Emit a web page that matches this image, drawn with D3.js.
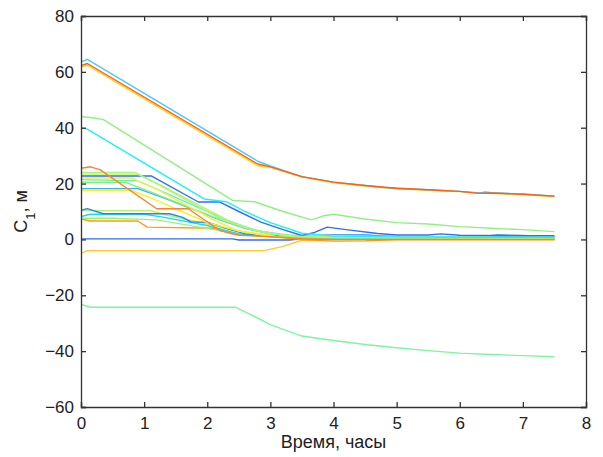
<!DOCTYPE html>
<html>
<head>
<meta charset="utf-8">
<script src="https://cdn.jsdelivr.net/npm/d3@7"></script>
<style>
  body { margin: 0; background: #fff; }
  text { font-family: "Liberation Sans", Arial, sans-serif; }
</style>
</head>
<body>
<script>
// tick values
const xTicks = [0, 1, 2, 3, 4, 5, 6, 7, 8];
const yTicks = [-60, -40, -20, 0, 20, 40, 60, 80];

// series: [time, C1]
const topSky = [[0,63.5],[0.1,64.5],[2.8,28],[3,26.3],[3.5,22.5],[4,20.5],[4.5,19.3],[4.8,18.6],[5,18.3],[5.5,17.8],[6,17.2],[6.3,16.6],[6.4,17],[6.5,16.7],[7,16.3],[7.5,15.5]];
const topYellow = [[0,61.6],[0.1,62.4],[2.8,26.4],[3,25.8],[3.5,22.3],[4,20.3],[4.5,19.1],[5,18.1],[5.5,17.6],[6,17.1],[6.5,16.5],[7,16.1],[7.5,15.3]];
const topOrange = [[0,62.2],[0.1,63],[2.8,27],[3,26],[3.5,22.5],[4,20.5],[4.5,19.3],[5,18.3],[5.5,17.8],[6,17.2],[6.3,16.5],[6.5,16.6],[7,16.2],[7.5,15.5]];
const green44 = [[0,44],[0.2,43.5],[0.35,43],[2.4,14],[2.75,13.5],[3.2,10],[3.65,7],[3.85,8.5],[4,9],[4.5,7.3],[5,6],[5.5,5.5],[6,4.6],[6.5,4],[7,3.5],[7.5,2.8]];
const cyan40 = [[0,40],[0.1,39.5],[1.95,14.5],[2.3,13.5],[2.6,10],[3,6],[3.5,2.2],[4,1.2],[5,0.9],[6,0.8],[7.5,0.8]];
const orange26 = [[0,25.5],[0.15,26],[0.3,25],[1.2,11],[1.7,11],[2.2,3.2],[2.5,1.5],[3,1],[3.5,0.3],[4,0],[7.5,0]];
const lgreen24 = [[0,24],[0.85,24],[1.2,20],[2.2,7.5],[2.5,5],[3,2],[3.5,1],[4,0.6],[7.5,0.5]];
const gyellow23 = [[0,23.4],[0.9,23.4],[1.3,19],[2.4,6],[2.8,3],[3.3,1.2],[7.5,0.5]];
const blue22 = [[0,22.7],[1.12,22.7],[1.86,13.4],[2.2,13.4],[2.5,10],[2.85,6.2],[3.2,3.5],[3.5,1.4],[3.7,2.5],[3.9,4.4],[4.2,3.5],[4.7,2.1],[5,1.6],[5.5,1.6],[5.7,2],[6,1.5],[7,1.3],[7.5,1.3]];
const yellow22 = [[0,22],[0.8,22],[1.2,18],[2.1,7],[2.5,3],[3,1],[7.5,0.3]];
const cyan21 = [[0,21.4],[0.9,21],[1.3,17],[2.3,7],[2.8,3],[3.3,1.5],[4,1],[7.5,1]];
const green20 = [[0,20.5],[0.7,20.5],[1.1,17],[2.1,8],[2.6,4],[3.2,1.5],[4,1],[7.5,0.8]];
const sky18 = [[0,18.2],[0.9,18.2],[1.3,15],[2.2,7],[2.6,4],[3.2,1],[4,0.6],[7.5,0.6]];
const yellow17 = [[0,17.6],[0.8,17.6],[1.2,14],[2,6],[2.5,3],[3,1.5],[7.5,0.5]];
const blue10 = [[0,10.5],[0.1,11],[0.35,9.2],[1.4,9.2],[1.6,8],[1.75,6.2],[2,6.2],[2.3,4],[2.6,2],[3,1],[4,1.6],[4.5,1.6],[5,1],[6.3,1],[6.6,1.6],[7,1.4],[7.5,1]];
const lgreen10 = [[0,10.3],[1.1,10.3],[1.3,9],[2.3,4],[2.8,1.5],[3.5,0.5],[7.5,0.3]];
const cyan8 = [[0,8.2],[0.15,9],[1,9],[1.3,8],[2,5],[2.5,2],[3,1],[7.5,0.8]];
const green7 = [[0,7.6],[0.5,7.6],[1.2,7],[2.5,2],[3.2,1],[7.5,0.5]];
const orange7 = [[0,7.3],[0.15,6.6],[0.9,6.6],[1.05,4.4],[2.1,4],[2.4,2],[3,1],[3.5,0],[4,-0.6],[4.5,-0.5],[5,0],[7.5,0]];
const blue0 = [[0,0.2],[2.4,0.2],[2.5,-0.2],[3.3,-0.2],[3.5,0.2],[7.5,0.2]];
const yellowNeg = [[0,-5],[0.1,-4],[2.9,-4],[3.2,-2.5],[3.5,-0.3],[4,0],[7.5,0]];
const greenNeg = [[0,-23.3],[0.15,-24.3],[2.45,-24.3],[2.7,-27],[3,-30.5],[3.3,-33],[3.5,-34.6],[4,-36.2],[4.5,-37.6],[5,-38.8],[5.5,-39.8],[6,-40.7],[6.5,-41.2],[7,-41.6],[7.5,-42]];

const seriesList = [
  [greenNeg, "#7ff5a0"], [yellowNeg, "#ffc830"], [blue0, "#2f6ef0"],
  [orange7, "#ff9a1e"], [green7, "#a0f070"], [cyan8, "#20d8f0"],
  [lgreen10, "#b0f070"], [blue10, "#1a8cf0"], [yellow17, "#ffee20"],
  [sky18, "#40b0f8"], [green20, "#80f080"], [cyan21, "#60f0c0"],
  [yellow22, "#f0f040"], [blue22, "#2f70f0"], [gyellow23, "#c8f060"],
  [lgreen24, "#a0f880"], [orange26, "#ff8030"], [cyan40, "#20f0f8"],
  [green44, "#90f080"], [topYellow, "#ffd020"], [topSky, "#50c8f8"],
  [topOrange, "#ff6010"]
];

const width = 603, height = 457;
const margin = { top: 16, right: 17, bottom: 50, left: 81 };
const w = width - margin.left - margin.right;
const h = height - margin.top - margin.bottom;

const svg = d3.select("body").append("svg")
    .attr("width", width)
    .attr("height", height);

const g = svg.append("g")
    .attr("transform", `translate(${margin.left},${margin.top})`);

const x = d3.scaleLinear().domain([0, 8]).range([0, w]);
const y = d3.scaleLinear().domain([-60, 80]).range([h, 0]);

// clip lines to the box
g.append("clipPath").attr("id", "clip")
  .append("rect").attr("width", w).attr("height", h);

const line = d3.line().x(d => x(d[0])).y(d => y(d[1]));

g.append("g").attr("clip-path", "url(#clip)")
  .selectAll("path")
  .data(seriesList)
  .enter().append("path")
    .attr("d", d => line(d[0]))
    .attr("fill", "none")
    .attr("stroke", d => d[1])
    .attr("stroke-width", 1.4)
    .attr("stroke-linejoin", "round");

// axes, MATLAB-like: ticks inside, on all four sides
const axisColor = "#333";
const tickLen = 5;

const bottomAxis = g.append("g")
    .attr("transform", `translate(0,${h})`)
    .call(d3.axisBottom(x).tickValues(xTicks).tickSize(-tickLen).tickPadding(10));
const topAxis = g.append("g")
    .call(d3.axisTop(x).tickValues(xTicks).tickSize(-tickLen).tickFormat(""));
const leftAxis = g.append("g")
    .call(d3.axisLeft(y).tickValues(yTicks).tickSize(-tickLen).tickPadding(7));
const rightAxis = g.append("g")
    .attr("transform", `translate(${w},0)`)
    .call(d3.axisRight(y).tickValues(yTicks).tickSize(-tickLen).tickFormat(""));

[bottomAxis, topAxis, leftAxis, rightAxis].forEach(a => {
  a.select(".domain").attr("stroke", axisColor).attr("stroke-width", 1.3);
  a.selectAll(".tick line").attr("stroke", axisColor).attr("stroke-width", 1.3);
  a.selectAll("text")
    .attr("fill", "#222")
    .style("font-size", "17px")
    .style("font-family", "'Liberation Sans', Arial, sans-serif");
});

// axis labels
svg.append("text")
    .attr("x", margin.left + w / 2)
    .attr("y", 448)
    .attr("text-anchor", "middle")
    .attr("fill", "#222")
    .style("font-size", "18px")
    .text("Время, часы");

const yl = svg.append("text")
    .attr("transform", `translate(27,${margin.top + h / 2}) rotate(-90)`)
    .attr("text-anchor", "middle")
    .attr("fill", "#222")
    .style("font-size", "18px");
yl.append("tspan").text("C");
yl.append("tspan").attr("baseline-shift", "sub").style("font-size", "13px").text("1");
yl.append("tspan").text(", м");
</script>
</body>
</html>
